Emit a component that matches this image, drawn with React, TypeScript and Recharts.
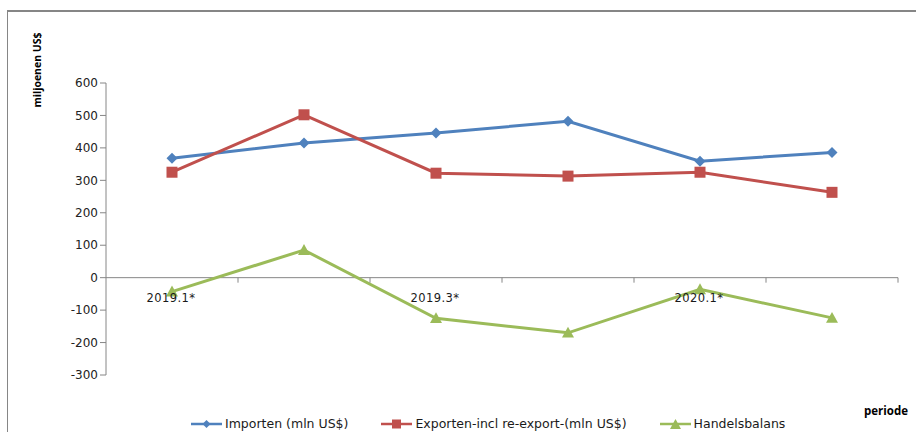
import React from 'react';
import { LineChart, Line, XAxis, YAxis, ReferenceLine, LabelList, Legend } from 'recharts';

const periods = ['2019.1*', '2019.2*', '2019.3*', '2019.4*', '2020.1*', '2020.2*'];
const importen = [368, 415, 446, 482, 359, 386];
const exporten = [325, 502, 322, 313, 325, 263];
const handelsbalans = [-43, 85, -125, -170, -36, -124];
const yTicks = [-300, -200, -100, 0, 100, 200, 300, 400, 500, 600];

const data = periods.map((p, i) => ({
  period: p,
  imp: importen[i],
  exp: exporten[i],
  hb: handelsbalans[i],
}));

const W = 916;
const H = 432;
const margin = { top: 83, right: 18, bottom: 42, left: 46 };
const yAxisW = 60;
const plotW = W - margin.left - margin.right - yAxisW;
const halfBand = plotW / periods.length / 2;

const BLUE = '#4F81BD';
const RED = '#C0504D';
const GREEN = '#9BBB59';
const AXIS = '#868686';
const FONT = "'DejaVu Sans', Verdana, sans-serif";

const Diamond = (props: any) => {
  const { cx, cy, fill } = props;
  if (cx == null || cy == null) return null;
  const s = 5.5;
  return <path d={`M${cx},${cy - s}L${cx + s},${cy}L${cx},${cy + s}L${cx - s},${cy}Z`} fill={fill} />;
};
const Square = (props: any) => {
  const { cx, cy, fill } = props;
  if (cx == null || cy == null) return null;
  const s = 5.5;
  return <rect x={cx - s} y={cy - s} width={2 * s} height={2 * s} fill={fill} />;
};
const Triangle = (props: any) => {
  const { cx, cy, fill } = props;
  if (cx == null || cy == null) return null;
  const s = 6;
  return <path d={`M${cx},${cy - s}L${cx + s},${cy + s * 0.8}L${cx - s},${cy + s * 0.8}Z`} fill={fill} />;
};

const CategoryLabel = (props: any) => {
  const { x, y, index } = props;
  return (
    <g>
      <line x1={x + halfBand} x2={x + halfBand} y1={y} y2={y + 5} stroke={AXIS} strokeWidth={1} />
      {index % 2 === 0 ? (
        <text x={x - 1} y={y + 24} textAnchor="middle" fontFamily={FONT} fontSize={11.5} letterSpacing={0.4} fill="#1a1a1a">
          {periods[index]}
        </text>
      ) : null}
    </g>
  );
};

const legendItems = [
  { label: 'Importen (mln US$)', color: BLUE, shape: 'diamond' },
  { label: 'Exporten-incl re-export-(mln US$)', color: RED, shape: 'square' },
  { label: 'Handelsbalans', color: GREEN, shape: 'triangle' },
];

const LegendContent = () => (
  <div style={{ display: 'flex', justifyContent: 'flex-start', gap: 33, fontFamily: FONT, fontSize: 12.5, color: '#1a1a1a', paddingLeft: 191 }}>
    {legendItems.map((it) => (
      <div key={it.label} style={{ display: 'flex', alignItems: 'center' }}>
        <svg width={31} height={12} style={{ marginRight: 3 }}>
          <line x1={0} x2={31} y1={6} y2={6} stroke={it.color} strokeWidth={2.5} />
          {it.shape === 'diamond' && <path d="M15.5,2L19.5,6L15.5,10L11.5,6Z" fill={it.color} />}
          {it.shape === 'square' && <rect x={11} y={1.5} width={9} height={9} fill={it.color} />}
          {it.shape === 'triangle' && <path d="M15.5,1L21,11L10,11Z" fill={it.color} />}
        </svg>
        <span>{it.label}</span>
      </div>
    ))}
  </div>
);

export default function App() {
  return (
    <div style={{ position: 'absolute', left: 0, top: 0, width: W, height: H, background: '#fff', overflow: 'hidden' }}>
      <div style={{ position: 'absolute', left: 7, top: 10, width: W, height: H, borderLeft: `1.5px solid ${AXIS}`, borderTop: `2px solid ${AXIS}` }} />
      <div style={{ position: 'absolute', left: 0, top: 0 }}>
        <LineChart width={W} height={H} data={data} margin={margin}>
          <XAxis dataKey="period" hide padding={{ left: halfBand, right: halfBand }} />
          <YAxis
            width={yAxisW}
            domain={[-300, 600]}
            ticks={yTicks}
            interval={0}
            axisLine={{ stroke: AXIS }}
            tickLine={{ stroke: AXIS }}
            tickSize={6}
            tick={{ fontFamily: FONT, fontSize: 12, fill: '#222' }}
          />
          <ReferenceLine y={0} stroke={AXIS} strokeWidth={1} />
          <Line dataKey={() => 0} stroke="none" dot={false} legendType="none" isAnimationActive={false}>
            <LabelList content={<CategoryLabel />} />
          </Line>
          <Line dataKey="imp" name="Importen (mln US$)" stroke={BLUE} strokeWidth={3} dot={<Diamond fill={BLUE} />} activeDot={false} isAnimationActive={false} />
          <Line dataKey="exp" name="Exporten-incl re-export-(mln US$)" stroke={RED} strokeWidth={3} dot={<Square fill={RED} />} activeDot={false} isAnimationActive={false} />
          <Line dataKey="hb" name="Handelsbalans" stroke={GREEN} strokeWidth={3} dot={<Triangle fill={GREEN} />} activeDot={false} isAnimationActive={false} />
          <Legend content={<LegendContent />} wrapperStyle={{ position: 'absolute', left: 0, top: 416, width: W }} />
          <text x={37} y={70} transform="rotate(-90 37 70)" textAnchor="middle" dominantBaseline="central" fontFamily="'Open Sans', sans-serif" fontWeight="bold" fontSize={10.5} fill="#000">
            miljoenen US$
          </text>
          <text x={908} y={415} textAnchor="end" fontFamily="'Open Sans', sans-serif" fontWeight="bold" fontSize={11.5} fill="#000">
            periode
          </text>
        </LineChart>
      </div>
    </div>
  );
}
